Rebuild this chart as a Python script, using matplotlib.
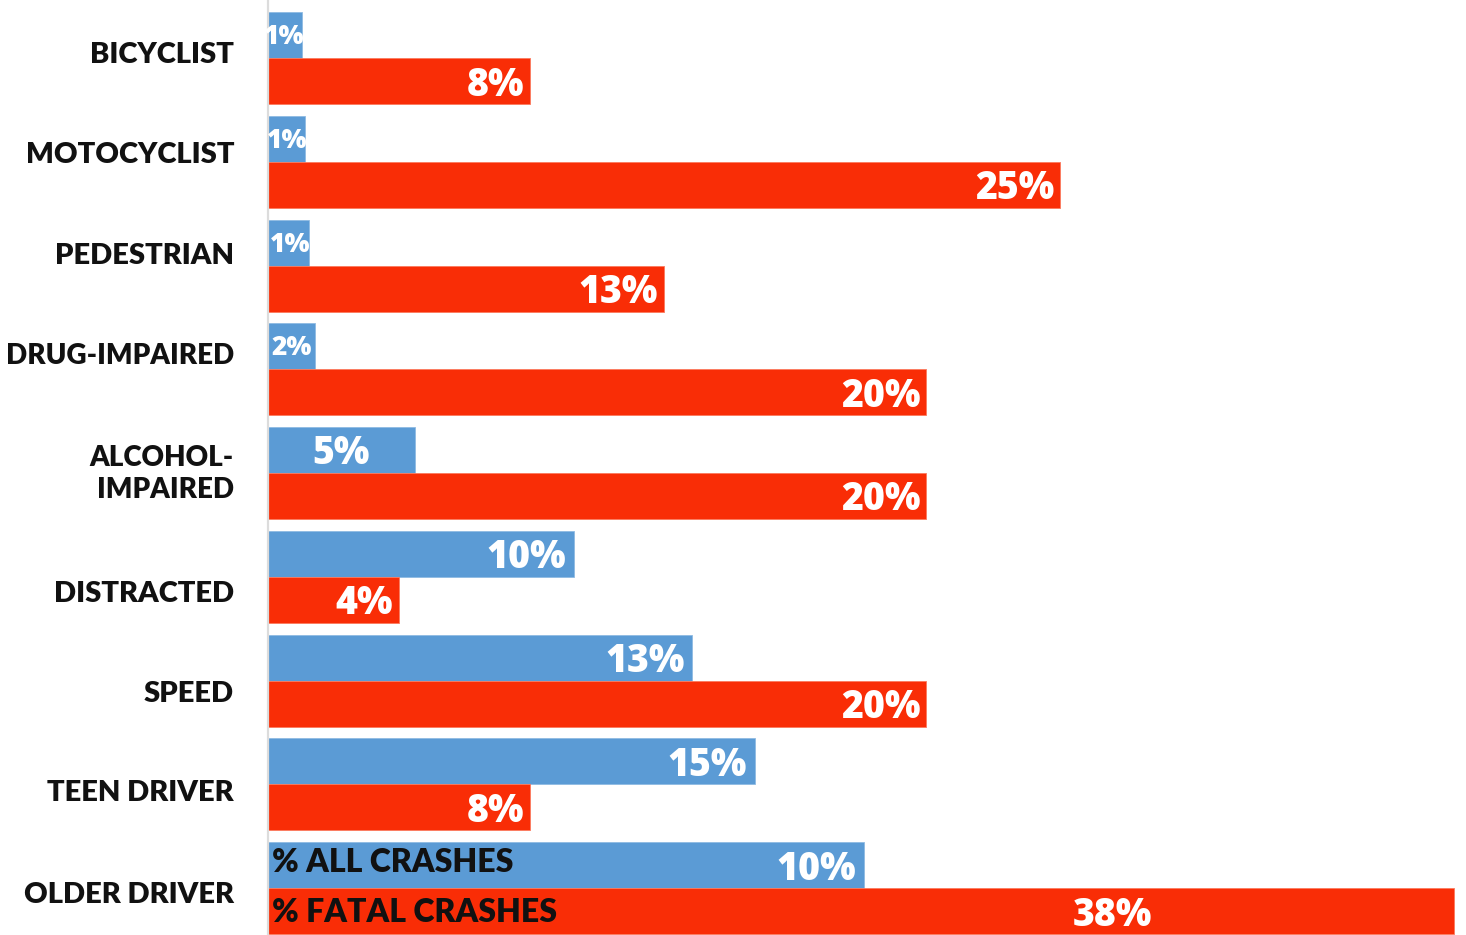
import matplotlib.pyplot as plt

categories = ["BICYCLIST", "MOTOCYCLIST", "PEDESTRIAN", "DRUG-IMPAIRED",
              "ALCOHOL-\nIMPAIRED", "DISTRACTED", "SPEED", "TEEN DRIVER", "OLDER DRIVER"]
# bar lengths as drawn in the picture (percent)
all_crashes = [1.1, 1.2, 1.3, 1.5, 4.7, 9.8, 13.6, 15.6, 19.1]
fatal_crashes = [8.4, 25.4, 12.7, 21.1, 21.1, 4.2, 21.1, 8.4, 38.0]
# printed labels
all_labels = ["1%", "1%", "1%", "2%", "5%", "10%", "13%", "15%", "10%"]
fatal_labels = ["8%", "25%", "13%", "20%", "20%", "4%", "20%", "8%", "38%"]
series_names = ["% ALL CRASHES", "% FATAL CRASHES"]

BLUE = "#5B9BD5"
RED = "#F92D06"

fig = plt.figure(figsize=(14.66, 9.35), dpi=100)
ax = fig.add_axes([268 / 1466, 0, 1 - 268 / 1466, 1])

h = 46 / 103.75
y = list(range(len(categories)))
ax.barh([v - h / 2 for v in y], all_crashes, height=h, color=BLUE,
        edgecolor="#8fbbe3", linewidth=0.6)
ax.barh([v + h / 2 for v in y], fatal_crashes, height=h, color=RED,
        edgecolor="#fb7a5e", linewidth=0.6)

ax.set_xlim(0, 1198 / 31.2)
ax.set_ylim((935 - 58) / 103.75, -58 / 103.75)

ax.set_yticks([])
ax.set_xticks([])
for s in ["top", "right", "bottom"]:
    ax.spines[s].set_visible(False)
ax.spines["left"].set_color("#dcdcdc")
ax.spines["left"].set_linewidth(1.6)

# category names are not exactly centred on their groups in the original
name_shift = [3, 7, 10, 13, -1, -17, -13, -9, -7]
for i, name in enumerate(categories):
    ax.annotate(name, (0, i), xytext=(-34, name_shift[i]), textcoords="offset pixels",
                ha="right", va="center", fontfamily="Lato", fontweight="heavy",
                fontsize=20 if len(name) > 12 else 21, color="#111111", linespacing=1.3)

value_font = dict(fontfamily="Open Sans", fontweight="heavy", color="white", va="center")

for i in range(len(categories)):
    # blue series
    v = all_crashes[i]
    if all_labels[i] == "5%":
        ax.annotate(all_labels[i], (v / 2, i - h / 2), xytext=(0, -3), textcoords="offset pixels",
                    ha="center", fontsize=27, **value_font)
    else:
        small = v < 2
        off = 2 if v < 1.4 else -3 if v < 2 else -8
        ax.annotate(all_labels[i], (v, i - h / 2), xytext=(off, -2 if small else -4),
                    textcoords="offset pixels", ha="right",
                    fontsize=19 if small else 27, **value_font)
    # red series
    v = fatal_crashes[i]
    if v > 30:
        ax.annotate(fatal_labels[i], (v * 0.712, i + h / 2), xytext=(0, -4),
                    textcoords="offset pixels", ha="center", fontsize=27, **value_font)
    else:
        ax.annotate(fatal_labels[i], (v, i + h / 2), xytext=(-6, -4), textcoords="offset pixels",
                    ha="right", fontsize=27, **value_font)

last = len(categories) - 1
ax.annotate(series_names[0], (0, last - h / 2), xytext=(4, 3), textcoords="offset pixels",
            ha="left", va="center", fontfamily="Lato", fontweight="heavy", fontsize=23, color="#111111")
ax.annotate(series_names[1], (0, last + h / 2), xytext=(4, -1), textcoords="offset pixels",
            ha="left", va="center", fontfamily="Lato", fontweight="heavy", fontsize=23, color="#111111")

fig.savefig("out.png", dpi=100)
